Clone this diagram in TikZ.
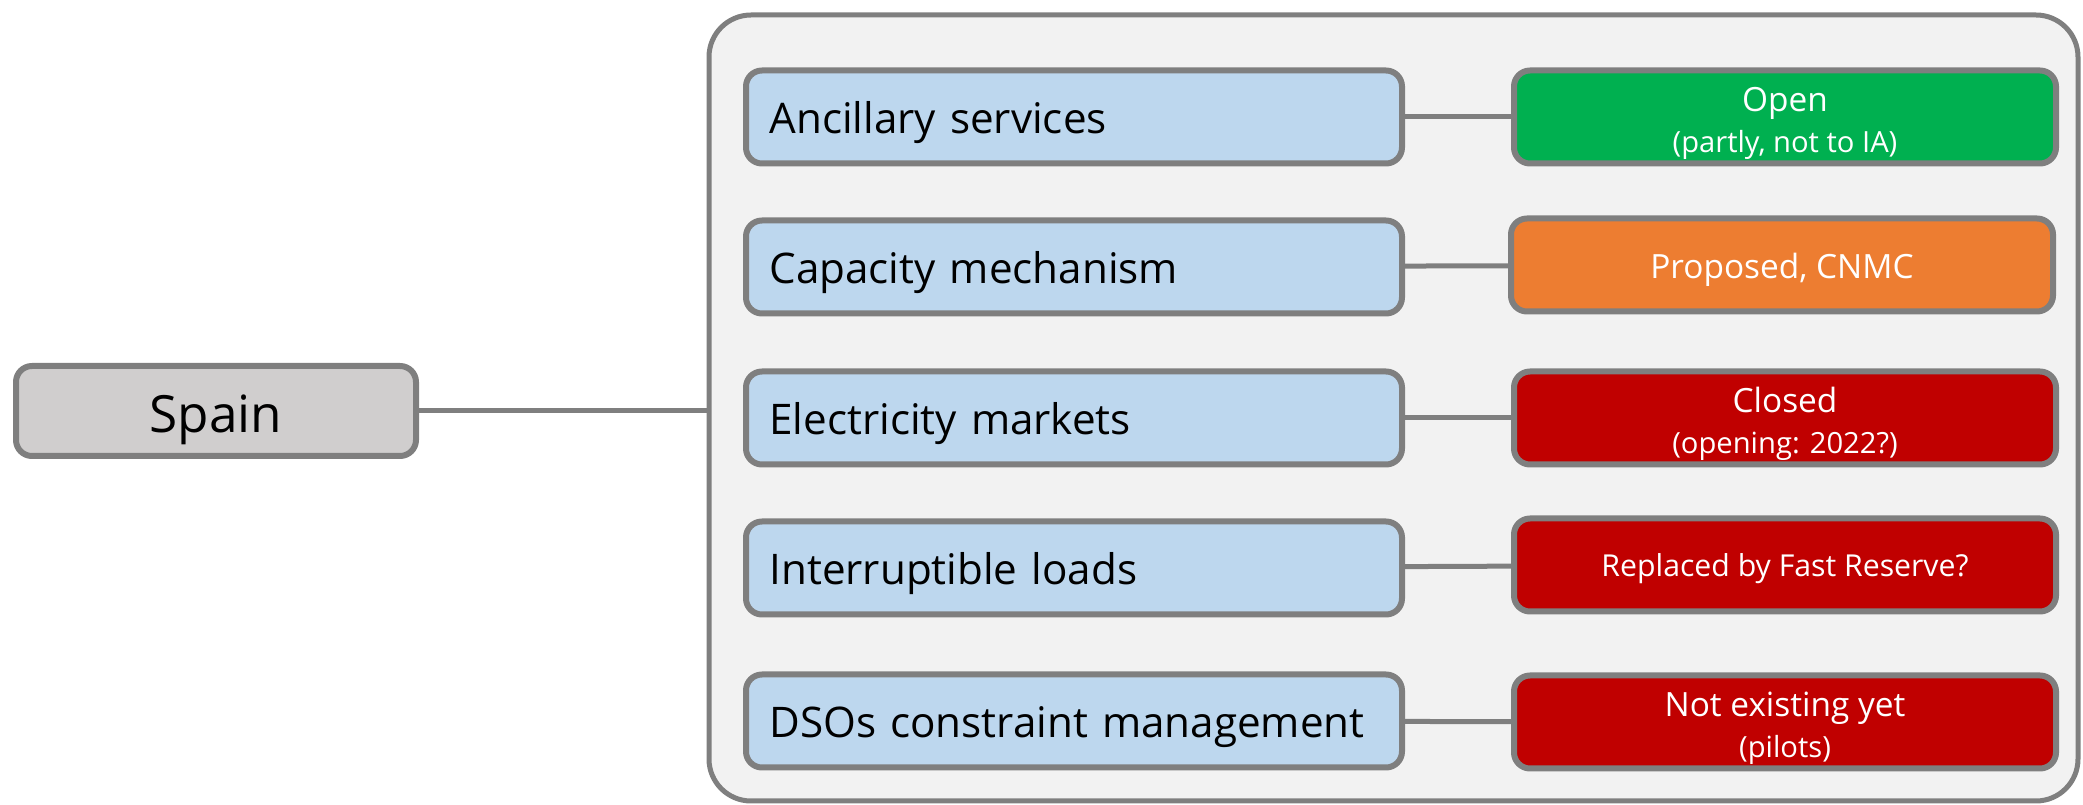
\documentclass[tikz,border=0pt]{standalone}
\usepackage{fontspec}
\setmainfont{Open Sans}
\definecolor{linegray}{HTML}{7F7F7F}
\definecolor{panelgray}{HTML}{F2F2F2}
\definecolor{countrygray}{HTML}{D0CECE}
\definecolor{itemblue}{HTML}{BDD7EE}
\definecolor{opengreen}{HTML}{00B050}
\definecolor{proporange}{HTML}{ED7D31}
\definecolor{closedred}{HTML}{C00000}
\tikzset{
  item/.style={draw=linegray, line width=0.06cm, rounded corners=0.16cm, fill=itemblue,
    minimum height=0.93cm, text width=6.09cm, inner xsep=0.235cm, align=left,
    text height=11.4pt, text depth=2pt, font=\fontsize{12}{14}\selectfont},
  state/.style={draw=linegray, line width=0.06cm, rounded corners=0.16cm,
    minimum width=5.42cm, minimum height=0.93cm, text=white, align=center,
    font=\fontsize{9.5}{11.5}\selectfont},
  twoline/.style={text height=21.5pt, text depth=1.5pt, inner ysep=0pt},
  link/.style={draw=linegray, line width=0.05cm},
}
\begin{document}
\begin{tikzpicture}
    \useasboundingbox (0,0) rectangle (20.83,8.05);
    \draw
    (13.935,3.97)node(panel)[draw=linegray, line width=0.05cm, rounded corners=0.42cm, fill=panelgray, minimum width=13.69cm, minimum height=7.86cm]{}
    (2.16,3.94)node(spain)[draw=linegray, line width=0.06cm, rounded corners=0.16cm, fill=countrygray, minimum width=4cm, minimum height=0.9cm, font=\fontsize{14.6}{17}\selectfont, text height=14pt, text depth=2pt]{Spain}
    (10.74,6.88)node(a1)[item]{Ancillary services}
    (10.74,5.38)node(a2)[item]{Capacity mechanism}
    (10.74,3.87)node(a3)[item]{Electricity markets}
    (10.74,2.37)node(a4)[item]{Interruptible loads}
    (10.74,0.84)node(a5)[item]{DSOs constraint management}
    (17.85,6.88)node(b1)[state, fill=opengreen, twoline]{Open\\{\fontsize{8.3}{11.5}\selectfont (partly, not to IA)}}
    (17.82,5.40)node(b2)[state, fill=proporange, text height=9.4pt, text depth=2pt]{Proposed, CNMC}
    (17.85,3.87)node(b3)[state, fill=closedred, twoline]{Closed\\{\fontsize{8.3}{11.5}\selectfont (opening: 2022?)}}
    (17.85,2.40)node(b4)[state, fill=closedred, font=\fontsize{8.6}{12}\selectfont, text height=8.6pt, text depth=2pt]{Replaced by Fast Reserve?}
    (17.85,0.83)node(b5)[state, fill=closedred, twoline]{Not existing yet\\{\fontsize{8.3}{11.5}\selectfont (pilots)}};
    %
    \draw [link](spain.east)--(spain.east -| panel.west);
    \draw [link](a1)--(b1);
    \draw [link](a2)--(b2);
    \draw [link](a3)--(b3);
    \draw [link](a4)--(b4);
    \draw [link](a5)--(b5);
\end{tikzpicture}
\end{document}
